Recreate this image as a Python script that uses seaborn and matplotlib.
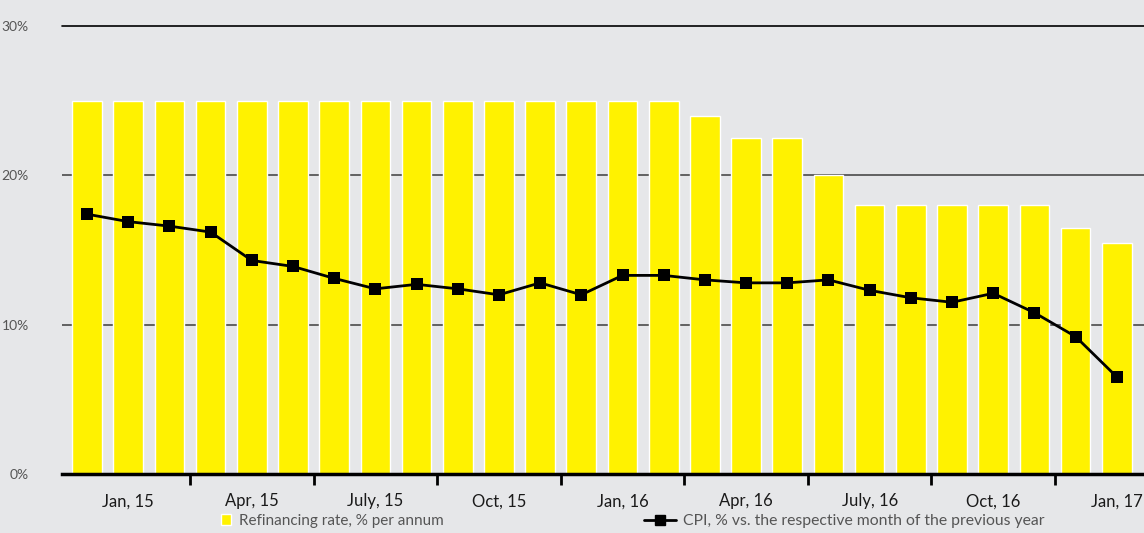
import matplotlib
matplotlib.use("Agg")
import matplotlib.pyplot as plt
from matplotlib.lines import Line2D
from matplotlib.patches import Patch
import pandas as pd
import seaborn as sns

# monthly data, Dec 14 .. Jan 17
refi_rate = [25, 25, 25, 25, 25, 25, 25, 25, 25, 25, 25, 25, 25, 25, 25,
             24, 22.5, 22.5, 20, 18, 18, 18, 18, 18, 16.5, 15.5]
cpi = [17.4, 16.9, 16.6, 16.2, 14.3, 13.9, 13.1, 12.4, 12.7, 12.4, 12.0, 12.8, 12.0,
       13.3, 13.3, 13.0, 12.8, 12.8, 13.0, 12.3, 11.8, 11.5, 12.1, 10.8, 9.2, 6.5]
quarter_labels = ["Jan, 15", "Apr, 15", "July, 15", "Oct, 15", "Jan, 16",
                  "Apr, 16", "July, 16", "Oct, 16", "Jan, 17"]
y_ticks = [0, 10, 20, 30]

df = pd.DataFrame({"pos": range(len(refi_rate)), "rate": refi_rate, "cpi": cpi})

bg = "#e6e7e9"
yellow = "#fff200"

sns.set_style("white")
plt.rcParams["font.family"] = ["Lato", "DejaVu Sans"]

fig = plt.figure(figsize=(11.44, 5.33), dpi=100, facecolor=bg)
ax = fig.add_axes([62 / 1144, 59 / 533, 1 - 62 / 1144, (474 - 26) / 533])
ax.set_facecolor(bg)

# grid lines behind the bars
for v in y_ticks[1:-1]:
    ax.axhline(v, color="#4a4a4a", lw=1.2, zorder=0)
ax.axhline(30, color="black", lw=1.2, zorder=0, clip_on=False)

sns.barplot(data=df, x="pos", y="rate", color=yellow, saturation=1, width=0.72,
            edgecolor="white", linewidth=1, ax=ax, zorder=2)
sns.lineplot(data=df, x="pos", y="cpi", color="black", lw=2, marker="s",
             markersize=9, markeredgewidth=0, ax=ax, zorder=3)

n = len(refi_rate)
ax.set_xlim(-0.607, 25.66)
ax.set_ylim(0, 30)

# tick marks between quarters, labels in the middle month
ax.set_xticks([i + 2.5 for i in range(0, n - 3, 3)])
ax.set_xticklabels([])
ax.set_xticks(list(range(1, n, 3)), minor=True)
ax.set_xticklabels(quarter_labels, minor=True, fontsize=12, color="#1a1a1a")
ax.tick_params(axis="x", which="both", bottom=True)
ax.tick_params(axis="x", which="major", length=8, width=2, color="black", direction="out")
ax.tick_params(axis="x", which="minor", length=0, pad=14)

ax.set_yticks(y_ticks)
ax.set_yticklabels([f"{v}%" for v in y_ticks], fontsize=10, color="#555555")
ax.tick_params(axis="y", length=0, pad=24)

ax.set_xlabel("")
ax.set_ylabel("")
for s in ["top", "right", "left"]:
    ax.spines[s].set_visible(False)
ax.spines["bottom"].set_color("black")
ax.spines["bottom"].set_linewidth(2.5)
ax.spines["bottom"].set_zorder(4)

bar_handle = Patch(facecolor=yellow, edgecolor="white", linewidth=1)
line_handle = Line2D([], [], color="black", lw=2, marker="s", markersize=7)
leg1 = fig.legend([bar_handle], ["Refinancing rate, % per annum"], loc="center left",
                  bbox_to_anchor=(207 / 1144, 1 - 521 / 533), frameon=False,
                  fontsize=11, labelcolor="#555555", handlelength=0.7, handleheight=0.7,
                  handletextpad=0.5)
leg2 = fig.legend([line_handle], ["CPI, % vs. the respective month of the previous year"],
                  loc="center left", bbox_to_anchor=(630 / 1144, 1 - 521 / 533),
                  frameon=False, fontsize=11.3, labelcolor="#555555", handlelength=2.0,
                  handletextpad=0.5)

fig.savefig("out.png", dpi=100, facecolor=bg)
